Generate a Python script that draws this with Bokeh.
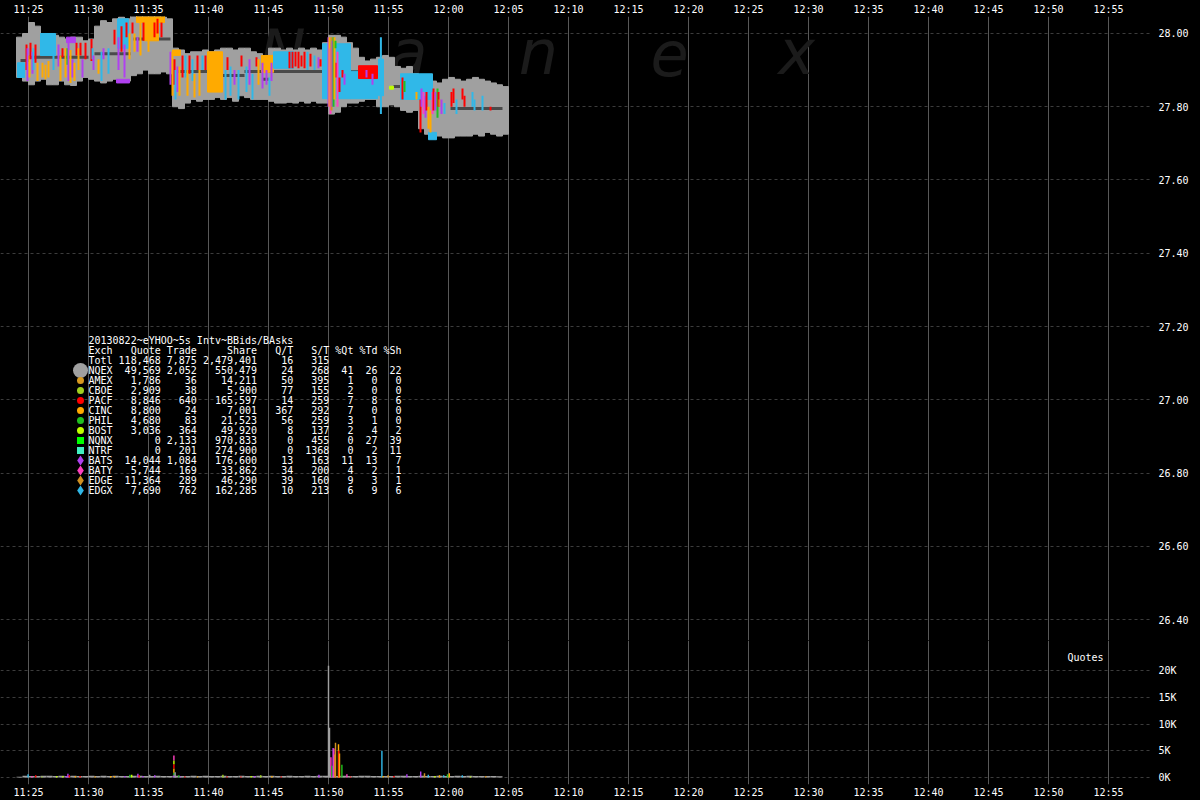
import numpy as np
from bokeh.plotting import figure
from bokeh.layouts import column
from bokeh.models import ColumnDataSource, FixedTicker, Range1d, Label, PrintfTickFormatter
from bokeh.core.properties import value
from bokeh.embed import file_html
from bokeh.resources import INLINE


def tm(s):
    parts = [int(v) for v in s.split(":")]
    while len(parts) < 3:
        parts.append(0)
    return (parts[0] - 11) * 60 + parts[1] + parts[2] / 60.0


# ---------------- data ----------------
title_text = "20130822~eYHOO~5s Intv~BBids/BAsks"
time_labels = ["11:25", "11:30", "11:35", "11:40", "11:45", "11:50", "11:55", "12:00", "12:05", "12:10",
               "12:15", "12:20", "12:25", "12:30", "12:35", "12:40", "12:45", "12:50", "12:55"]
price_labels = ["26.40", "26.60", "26.80", "27.00", "27.20", "27.40", "27.60", "27.80", "28.00"]
vol_labels = ["0K", "5K", "10K", "15K", "20K"]
vol_ticks = [0, 5000, 10000, 15000, 20000]

# table of exchange statistics
exch = ["Totl", "NQEX", "AMEX", "CBOE", "PACF", "CINC", "PHIL", "BOST", "NQNX", "NTRF", "BATS", "BATY", "EDGE", "EDGX"]
quotes = [118468, 49569, 1786, 2909, 8846, 8800, 4680, 3036, 0, 0, 14044, 5744, 11364, 7690]
trades = [7875, 2052, 36, 38, 640, 24, 83, 364, 2133, 201, 1084, 169, 289, 762]
shares = [2479401, 550479, 14211, 5900, 165597, 7001, 21523, 49920, 970833, 274900, 176600, 33862, 46290, 162285]
q_per_t = [16, 24, 50, 77, 14, 367, 56, 8, 0, 0, 13, 34, 39, 10]
s_per_t = [315, 268, 395, 155, 259, 292, 259, 137, 455, 1368, 163, 200, 160, 213]
pct_qt = ["", 41, 1, 2, 7, 7, 3, 2, 0, 0, 11, 4, 9, 6]
pct_td = ["", 26, 0, 0, 8, 0, 1, 4, 27, 2, 13, 2, 3, 9]
pct_sh = ["", 22, 0, 0, 6, 0, 0, 2, 39, 11, 7, 1, 1, 6]

# NQEX best bid/ask band, 30-second intervals starting 11:24:00
band_hi = [27.99, 28.00, 28.03, 28.02, 28.00, 28.00, 27.995, 27.99, 27.985, 27.99,
           27.99, 27.98, 27.985, 28.02, 28.035, 28.03, 28.04, 28.045, 28.04, 28.05,
           28.07, 28.06, 28.05, 28.055, 28.045, 28.04, 27.96, 27.955, 27.945, 27.95,
           27.95, 27.955, 27.95, 27.955, 27.96, 27.96, 27.955, 27.96, 27.96, 27.95,
           27.945, 27.935, 27.96, 27.96, 27.955, 27.96, 27.955, 27.96, 27.955, 27.96,
           27.955, 27.975, 27.995, 27.995, 27.99, 27.975, 27.96, 27.935, 27.925, 27.93,
           27.935, 27.94, 27.935, 27.91, 27.905, 27.91, 27.89, 27.88, 27.87, 27.87,
           27.865, 27.875, 27.88, 27.875, 27.87, 27.875, 27.88, 27.875, 27.87, 27.865,
           27.86, 27.855]
band_lo = [27.88, 27.87, 27.86, 27.87, 27.875, 27.86, 27.86, 27.87, 27.86, 27.858,
           27.87, 27.88, 27.875, 27.87, 27.865, 27.87, 27.875, 27.87, 27.87, 27.885,
           27.89, 27.90, 27.89, 27.89, 27.895, 27.89, 27.80, 27.795, 27.81, 27.82,
           27.815, 27.82, 27.82, 27.825, 27.82, 27.825, 27.815, 27.83, 27.825, 27.82,
           27.82, 27.82, 27.815, 27.81, 27.81, 27.812, 27.81, 27.815, 27.81, 27.815,
           27.81, 27.81, 27.78, 27.785, 27.80, 27.81, 27.81, 27.815, 27.82, 27.82,
           27.80, 27.80, 27.805, 27.80, 27.79, 27.785, 27.79, 27.74, 27.725, 27.73,
           27.72, 27.715, 27.715, 27.72, 27.72, 27.72, 27.725, 27.72, 27.73, 27.725,
           27.72, 27.725]
# NQEX quotes per 30-second interval
nqex_quotes = [150, 320, 300, 280, 340, 310, 290, 330, 300, 320,
               280, 300, 310, 290, 320, 300, 330, 280, 300, 310,
               320, 300, 290, 310, 300, 280, 320, 300, 290, 310,
               300, 320, 290, 300, 310, 280, 300, 320, 300, 290,
               310, 300, 320, 300, 290, 310, 300, 290, 320, 300,
               350, 340, 320, 300, 310, 290, 300, 320, 310, 300,
               280, 300, 290, 310, 320, 300, 290, 310, 300, 280,
               310, 300, 290, 320, 300, 310, 290, 300, 280, 300,
               250, 0]

# dark best bid/offer line pieces
bbo_t0 = ["11:24:20", "11:25:00", "11:30:30", "11:33:45", "11:37:30", "11:41:00",
          "11:43:00", "11:44:30", "11:45:00", "11:55:25", "11:57:25", "12:00:10"]
bbo_t1 = ["11:25:00", "11:30:00", "11:33:30", "11:36:50", "11:40:30", "11:43:00",
          "11:44:30", "11:45:00", "11:52:30", "11:57:25", "11:58:00", "12:04:30"]
bbo_px = [27.926, 27.935, 27.945, 27.985, 27.896, 27.885,
          27.896, 27.875, 27.896, 27.855, 27.845, 27.795]

# exchange quote blocks
blk_t0 = ["11:24:05", "11:26:00", "11:28:10", "11:34:00", "11:34:40", "11:32:25", "11:32:20", "11:37:00", "11:39:55",
          "11:44:25", "11:45:25", "11:49:30", "11:51:50", "11:52:30", "11:54:10", "11:55:05", "11:56:00", "11:58:20"]
blk_t1 = ["11:24:40", "11:27:15", "11:28:55", "11:36:20", "11:35:50", "11:33:20", "11:33:25", "11:37:40", "11:41:10",
          "11:45:25", "11:47:05", "11:51:50", "11:54:05", "11:54:05", "11:54:35", "11:55:25", "11:58:40", "11:59:00"]
blk_lo = [27.88, 27.94, 27.975, 28.03, 27.98, 27.96, 27.865, 27.94, 27.84,
          27.894, 27.905, 27.822, 27.822, 27.877, 27.83, 27.848, 27.82, 27.71]
blk_hi = [27.92, 28.00, 27.99, 28.09, 28.03, 28.04, 27.875, 27.955, 27.95,
          27.94, 27.95, 27.972, 27.897, 27.912, 27.93, 27.856, 27.89, 27.73]
blk_ex = ["EDGX", "EDGX", "BATS", "CINC", "CINC", "EDGX", "BATS", "CINC", "CINC",
          "CINC", "EDGX", "EDGX", "EDGX", "PACF", "EDGX", "BOST", "EDGX", "EDGX"]

# exchange quote lines
seg_time = ["11:24:50", "11:24:55", "11:25:05", "11:25:10", "11:25:20", "11:25:25", "11:25:35", "11:25:45", "11:26:10", "11:26:25",
            "11:26:40", "11:27:05", "11:27:30", "11:27:40", "11:27:50", "11:28:05", "11:28:15", "11:28:20", "11:28:30", "11:28:40",
            "11:28:50", "11:29:00", "11:29:10", "11:29:20", "11:29:30", "11:29:45", "11:30:15", "11:30:20", "11:30:25", "11:30:50",
            "11:31:05", "11:31:15", "11:31:40", "11:32:10", "11:32:30", "11:32:45", "11:33:00", "11:33:10", "11:33:25", "11:33:40",
            "11:33:50", "11:34:05", "11:34:20", "11:34:35", "11:35:00", "11:35:30", "11:35:45", "11:36:05", "11:36:50", "11:37:00",
            "11:37:10", "11:37:15", "11:37:25", "11:37:35", "11:37:50", "11:38:05", "11:38:15", "11:38:25", "11:38:40", "11:38:50",
            "11:39:05", "11:39:15", "11:39:30", "11:39:45", "11:41:25", "11:41:35", "11:41:50", "11:42:10", "11:42:30", "11:42:45",
            "11:43:10", "11:43:25", "11:43:40", "11:44:00", "11:44:10", "11:44:30", "11:44:50", "11:45:05", "11:45:15", "11:46:45",
            "11:47:00", "11:47:15", "11:47:30", "11:47:45", "11:48:00", "11:48:15", "11:48:30", "11:48:50", "11:49:10", "11:49:20",
            "11:50:00", "11:50:05", "11:50:10", "11:50:15", "11:50:20", "11:50:25", "11:50:30", "11:50:35", "11:50:40", "11:50:45",
            "11:50:55", "11:51:10", "11:51:20", "11:53:10", "11:53:40", "11:54:22", "11:56:10", "11:56:20", "11:57:20", "11:57:40",
            "11:57:45", "11:57:55", "11:58:05", "11:58:10", "11:58:20", "11:58:30", "11:58:40", "11:58:45", "11:58:55", "11:59:05",
            "11:59:10", "11:59:15", "11:59:25", "11:59:40", "12:00:15", "12:00:25", "12:00:40", "12:01:10", "12:01:20", "12:02:00",
            "12:02:10", "12:02:50", "12:03:30"]
seg_lo = [27.90, 27.87, 27.88, 27.93, 27.89, 27.90, 27.92, 27.87, 27.88, 27.875,
          27.88, 27.90, 27.91, 27.87, 27.935, 27.88, 27.915, 27.87, 27.865, 27.88,
          27.87, 27.94, 27.90, 27.94, 27.88, 27.93, 27.925, 27.93, 27.90, 27.89,
          27.87, 27.93, 27.89, 27.97, 27.90, 27.95, 27.88, 27.99, 27.93, 28.00,
          27.95, 27.95, 27.94, 27.98, 27.95, 27.99, 28.00, 27.99, 27.86, 27.83,
          27.86, 27.82, 27.84, 27.83, 27.88, 27.88, 27.83, 27.89, 27.87, 27.825,
          27.90, 27.83, 27.90, 27.90, 27.82, 27.90, 27.83, 27.86, 27.82, 27.91,
          27.84, 27.86, 27.82, 27.91, 27.86, 27.85, 27.86, 27.83, 27.87, 27.905,
          27.905, 27.91, 27.905, 27.91, 27.905, 27.90, 27.91, 27.90, 27.905, 27.91,
          27.80, 27.80, 27.78, 27.79, 27.80, 27.80, 27.82, 27.96, 27.88, 27.80,
          27.84, 27.88, 27.86, 27.88, 27.86, 27.78, 27.82, 27.84, 27.82, 27.73,
          27.80, 27.78, 27.77, 27.79, 27.74, 27.73, 27.78, 27.79, 27.79, 27.77,
          27.80, 27.80, 27.78, 27.78, 27.80, 27.81, 27.78, 27.82, 27.80, 27.80,
          27.79, 27.79, 27.79]
seg_hi = [27.97, 27.96, 27.94, 27.975, 27.95, 27.96, 27.97, 27.92, 27.92, 27.915,
          27.925, 27.95, 27.97, 27.94, 27.96, 27.96, 27.96, 27.975, 27.955, 27.93,
          27.92, 27.975, 27.96, 27.975, 27.93, 27.975, 27.985, 27.96, 27.94, 27.93,
          27.95, 27.96, 27.96, 28.01, 27.99, 28.02, 27.97, 28.03, 28.00, 28.03,
          28.00, 27.99, 28.03, 28.03, 28.02, 28.03, 28.04, 28.03, 27.95, 27.95,
          27.93, 27.90, 27.91, 27.91, 27.94, 27.94, 27.90, 27.94, 27.93, 27.89,
          27.94, 27.90, 27.94, 27.94, 27.90, 27.935, 27.91, 27.90, 27.90, 27.94,
          27.91, 27.93, 27.89, 27.935, 27.93, 27.92, 27.90, 27.88, 27.92, 27.95,
          27.95, 27.95, 27.95, 27.94, 27.95, 27.95, 27.945, 27.94, 27.935, 27.93,
          27.99, 27.99, 27.96, 27.99, 27.98, 27.99, 27.99, 27.98, 27.92, 27.95,
          27.88, 27.90, 27.89, 27.90, 27.89, 27.99, 27.88, 27.87, 27.84, 27.82,
          27.85, 27.84, 27.83, 27.84, 27.80, 27.79, 27.84, 27.85, 27.84, 27.85,
          27.84, 27.82, 27.82, 27.81, 27.84, 27.85, 27.82, 27.85, 27.83, 27.84,
          27.82, 27.83, 27.80]
seg_ex = ["PACF", "BATS", "CINC", "PACF", "BATS", "EDGX", "PACF", "CINC", "CINC", "CINC",
          "CINC", "EDGX", "BATS", "CINC", "PACF", "CINC", "PHIL", "BATS", "CINC", "BATS",
          "CINC", "PACF", "CINC", "PACF", "BATS", "PACF", "PACF", "EDGX", "BATS", "CINC",
          "EDGX", "BATS", "EDGX", "PACF", "BATS", "PACF", "BATS", "PACF", "CINC", "PACF",
          "CINC", "BATS", "CINC", "PACF", "CINC", "PACF", "PACF", "PACF", "BATS", "CINC",
          "PACF", "EDGX", "BATS", "CINC", "PACF", "EDGX", "CINC", "PACF", "EDGX", "CINC",
          "PACF", "CINC", "EDGX", "PACF", "EDGX", "PACF", "EDGX", "BATS", "EDGX", "PACF",
          "EDGX", "BATS", "EDGX", "PACF", "CINC", "BATS", "BATS", "EDGX", "BATS", "PACF",
          "PACF", "PACF", "PACF", "PACF", "PACF", "EDGX", "PACF", "EDGX", "BATS", "PACF",
          "BATS", "CINC", "BATY", "EDGE", "BATS", "PHIL", "CINC", "PHIL", "PACF", "BATY",
          "PACF", "PACF", "BATS", "BATS", "BATS", "EDGX", "PACF", "PHIL", "CINC", "PACF",
          "BATS", "BATY", "BATS", "PACF", "CINC", "CINC", "BATY", "PACF", "BATS", "PHIL",
          "PACF", "EDGE", "BATS", "EDGX", "PACF", "PACF", "EDGX", "PACF", "PACF", "EDGX",
          "EDGX", "EDGX", "PACF"]

# quote counts per 5-second interval (exchange spikes)
vol_time = ["11:24:58", "11:25:17", "11:25:36", "11:26:07", "11:27:21", "11:27:52", "11:28:09", "11:28:17", "11:28:24", "11:28:55",
            "11:29:18", "11:30:33", "11:31:51", "11:32:10", "11:33:02", "11:33:27", "11:33:36", "11:34:07", "11:34:13", "11:34:32",
            "11:35:06", "11:35:31", "11:37:07", "11:37:07", "11:37:07", "11:37:07", "11:37:07", "11:37:07", "11:37:13", "11:37:32",
            "11:37:39", "11:38:02", "11:39:05", "11:41:12", "11:41:33", "11:42:42", "11:43:33", "11:43:51", "11:44:21", "11:45:17",
            "11:46:04", "11:49:12", "11:50:00", "11:50:05", "11:50:12", "11:50:17", "11:50:23", "11:50:27", "11:50:33", "11:50:35",
            "11:50:50", "11:50:52", "11:50:55", "11:51:07", "11:51:32", "11:51:50", "11:54:27", "11:54:33", "11:54:58", "11:55:27",
            "11:56:32", "11:57:41", "11:58:00", "11:58:19", "11:58:52", "11:59:15", "11:59:36", "11:59:55", "12:00:04", "12:01:09",
            "12:01:50", "12:03:06"]
vol_ex = ["EDGX", "BATY", "PACF", "CBOE", "BOST", "BOST", "BATS", "BATS", "PACF", "CINC",
          "PACF", "CINC", "CINC", "CINC", "BATS", "PHIL", "BOST", "BATS", "PACF", "BATS",
          "NQEX", "BATS", "BATS", "PHIL", "CINC", "PACF", "BOST", "BATY", "NQEX", "PHIL",
          "BATS", "PACF", "CINC", "CBOE", "PACF", "PACF", "BOST", "BATS", "CBOE", "CINC",
          "PACF", "BATS", "NQEX", "NQEX", "BATY", "PHIL", "BATS", "BATY", "CINC", "EDGE",
          "CINC", "PACF", "CINC", "PHIL", "BATY", "PACF", "EDGX", "CINC", "EDGE", "PACF",
          "BATS", "BATS", "EDGE", "EDGX", "BOST", "CINC", "EDGX", "PHIL", "CINC", "EDGX",
          "BOST", "EDGE"]
vol_count = [600, 300, 400, 200, 300, 300, 300, 700, 400, 300,
             300, 200, 300, 300, 300, 500, 500, 700, 400, 300,
             500, 400, 400, 500, 800, 800, 700, 900, 1000, 400,
             200, 200, 200, 500, 200, 200, 300, 300, 400, 300,
             200, 500, 20900, 9300, 3800, 2200, 5500, 5400, 4300, 6500,
             6200, 5000, 4500, 2400, 600, 200, 5000, 300, 400, 300,
             600, 1100, 800, 500, 300, 400, 400, 600, 800, 400,
             200, 300]

wm_letters = ["N", "a", "n", "e", "x"]
wm_time = ["11:46:10", "11:56:40", "12:07:30", "12:18:25", "12:29:00"]

# ---------------- styles ----------------
colors = {"NQEX": "#a0a0a0", "AMEX": "#d89a20", "CBOE": "#a0d020", "PACF": "#ff0000",
          "CINC": "#ffaa00", "PHIL": "#20c020", "BOST": "#c0ff00", "NQNX": "#00ff00",
          "NTRF": "#40f0c0", "BATS": "#b040f0", "BATY": "#ff40c0", "EDGE": "#d09020",
          "EDGX": "#30b8e8"}
markers = {"NQEX": "circle", "AMEX": "circle", "CBOE": "circle", "PACF": "circle", "CINC": "circle",
           "PHIL": "circle", "BOST": "circle", "NQNX": "square", "NTRF": "square", "BATS": "diamond",
           "BATY": "diamond", "EDGE": "diamond", "EDGX": "diamond"}
msizes = {"circle": 7, "square": 7, "diamond": 10}
MONO = "DejaVu Sans Mono"

time_ticks = [int(round(tm(s))) for s in time_labels]
price_ticks = [float(s) for s in price_labels]

xr = Range1d(tm("11:22:40"), tm("12:58:40"))


def style(fig):
    fig.background_fill_color = "black"
    fig.border_fill_color = "black"
    fig.outline_line_color = None
    for ax in fig.axis:
        ax.axis_line_color = None
        ax.major_tick_line_color = None
        ax.minor_tick_line_color = None
        ax.major_tick_out = 0
        ax.major_tick_in = 0
        ax.major_label_text_color = "white"
        ax.major_label_text_font = MONO
        ax.major_label_text_font_size = "10px"
    fig.xaxis.ticker = FixedTicker(ticks=time_ticks)
    fig.xaxis.major_label_overrides = {t: s for t, s in zip(time_ticks, time_labels)}
    fig.xaxis.major_label_standoff = 2
    fig.yaxis.major_label_standoff = 6
    fig.xgrid.ticker = FixedTicker(ticks=time_ticks)
    fig.xgrid.grid_line_color = "#585858"
    fig.xgrid.grid_line_width = 1
    fig.ygrid.grid_line_color = "#3c3c3c"
    fig.ygrid.grid_line_dash = "3 3"


# ---------------- price panel ----------------
p = figure(width=1200, height=640, x_range=xr, y_range=Range1d(26.3427, 28.0464),
           output_backend="svg", toolbar_location=None,
           x_axis_location="above", y_axis_location="right",
           min_border_left=0, min_border_right=48, min_border_top=14, min_border_bottom=0)
style(p)
p.yaxis.ticker = FixedTicker(ticks=price_ticks)
p.yaxis.formatter = PrintfTickFormatter(format="%.2f")
p.ygrid.ticker = FixedTicker(ticks=price_ticks)

# watermark
p.text(x=[tm(t) for t in wm_time], y=[27.948] * len(wm_letters), text=wm_letters,
       text_font=value("DejaVu Sans"), text_font_style="italic", text_font_size=value("62px"),
       text_color="#1b1b1b", text_align="center", text_baseline="middle")

bin_start = np.arange(len(band_hi)) * 0.5 + tm("11:24:00")
p.quad(left=bin_start, right=bin_start + 0.5, bottom=band_lo, top=band_hi,
       fill_color=colors["NQEX"], line_color=colors["NQEX"], line_width=1)

p.segment(x0=[tm(t) for t in bbo_t0], x1=[tm(t) for t in bbo_t1], y0=bbo_px, y1=bbo_px,
          line_color="#4a4a4a", line_width=3)

blk_src = ColumnDataSource(dict(l=[tm(t) for t in blk_t0], r=[tm(t) for t in blk_t1],
                                b=blk_lo, t=blk_hi, c=[colors[e] for e in blk_ex]))
p.quad(left="l", right="r", bottom="b", top="t", fill_color="c", line_color="c",
       line_width=1, source=blk_src)

seg_src = ColumnDataSource(dict(x=[tm(t) for t in seg_time], lo=seg_lo, hi=seg_hi,
                                c=[colors[e] for e in seg_ex]))
p.segment(x0="x", x1="x", y0="lo", y1="hi", line_color="c", line_width=2, source=seg_src)

# statistics table
row_top = 27.1618
row_step = 10 / 366.25
header = f"{'Exch':<4}{'Quote':>8}{'Trade':>6}{'Share':>10}{'Q/T':>6}{'S/T':>6}{'%Qt':>4}{'%Td':>4}{'%Sh':>4}"
rows = [title_text, header]
for i, e in enumerate(exch):
    rows.append(f"{e:<4}{quotes[i]:>8,}{trades[i]:>6,}{shares[i]:>10,}{q_per_t[i]:>6}{s_per_t[i]:>6}"
                f"{str(pct_qt[i]):>4}{str(pct_td[i]):>4}{str(pct_sh[i]):>4}")
rows = [r.replace(" ", "\u00a0") for r in rows]
row_y = [row_top - k * row_step for k in range(len(rows))]
p.text(x=[tm("11:30:00")] * len(rows), y=row_y, text=rows,
       text_font=value(MONO), text_font_size=value("10px"), text_color="white",
       text_align="left", text_baseline="middle")

leg_ex = exch[1:]
leg_src = ColumnDataSource(dict(
    x=[tm("11:29:20")] * len(leg_ex), y=row_y[3:],
    m=[markers[e] for e in leg_ex], c=[colors[e] for e in leg_ex],
    s=[15 if e == "NQEX" else msizes[markers[e]] for e in leg_ex]))
p.scatter(x="x", y="y", marker="m", size="s", fill_color="c", line_color=None, source=leg_src)

# ---------------- quote count panel ----------------
v = figure(width=1200, height=160, x_range=xr, y_range=Range1d(-1308, 25607),
           output_backend="svg", toolbar_location=None,
           x_axis_location="below", y_axis_location="right",
           min_border_left=0, min_border_right=48, min_border_top=0, min_border_bottom=14)
style(v)
v.yaxis.ticker = FixedTicker(ticks=vol_ticks)
v.yaxis.major_label_overrides = {t: s for t, s in zip(vol_ticks, vol_labels)}
v.ygrid.ticker = FixedTicker(ticks=vol_ticks)

v.quad(left=bin_start, right=bin_start + 0.5, bottom=0, top=nqex_quotes,
       fill_color=colors["NQEX"], line_color=None)

cum = {}
vb, vt = [], []
for t, n in zip(vol_time, vol_count):
    base = cum.get(t, 0)
    vb.append(base)
    vt.append(base + n)
    cum[t] = base + n
vol_src = ColumnDataSource(dict(x=[tm(t) for t in vol_time], b=vb, t=vt,
                                c=[colors[e] for e in vol_ex]))
v.vbar(x="x", width=0.12, bottom="b", top="t", fill_color="c", line_color=None, source=vol_src)

v.add_layout(Label(x=tm("12:54:35"), y=22400, text="Quotes", text_align="right",
                   text_baseline="middle", text_color="white", text_font=MONO,
                   text_font_size="10px"))

layout = column(p, v, spacing=0, styles={"background-color": "#000000"})
html = file_html(layout, INLINE, title="Nanex YHOO")
html = html.replace("</head>", "<style>html, body { background-color: #000000; }</style></head>", 1)
open("out.html", "w").write(html)
